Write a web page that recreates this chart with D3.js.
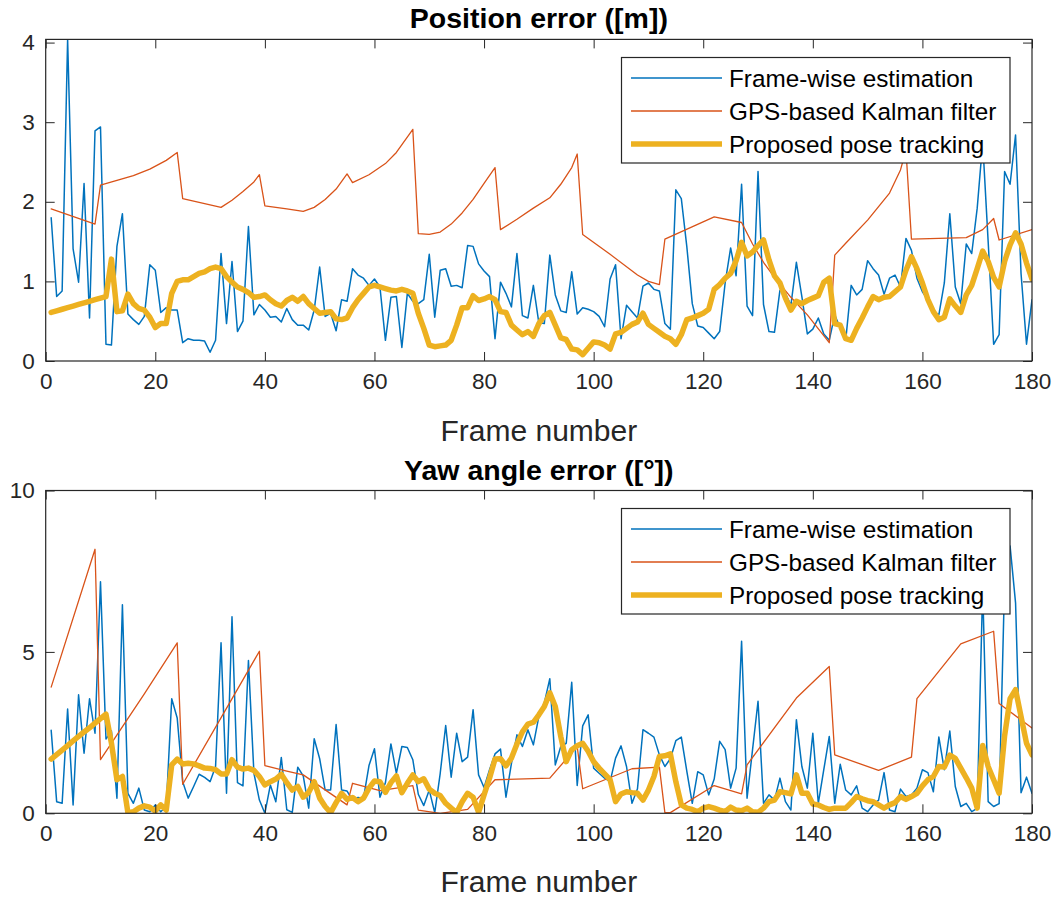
<!DOCTYPE html>
<html>
<head>
<meta charset="utf-8">
<script src="https://cdn.jsdelivr.net/npm/d3@7"></script>
<style>
  html, body { margin: 0; padding: 0; background: #ffffff; }
  svg { display: block; font-family: "Liberation Sans", Arial, Helvetica, sans-serif; }
</style>
</head>
<body>
<svg id="chart" width="1061" height="900"></svg>
<script>
// ---- data ---------------------------------------------------------------
const frameRange = [0, 180];
const xTicks = [0, 20, 40, 60, 80, 100, 120, 140, 160, 180];
const posTicks = [0, 1, 2, 3, 4];
const yawTicks = [0, 5, 10];
const seriesNames = ["Frame-wise estimation", "GPS-based Kalman filter", "Proposed pose tracking"];
const panelTitles = ["Position error ([m])", "Yaw angle error ([\u00B0])"];
const xLabelText = "Frame number";

// position error [m], one value per frame (1..180)
const posFrameWise = [
  1.80,0.81,0.88,4.04,1.41,0.99,2.23,0.54,2.89,2.94,
  0.21,0.20,1.44,1.85,0.59,0.52,0.46,0.56,1.21,1.14,
  0.61,0.67,0.64,0.64,0.23,0.28,0.26,0.26,0.25,0.11,
  0.26,1.35,0.47,1.25,0.37,0.50,1.69,0.58,0.71,0.64,
  0.55,0.56,0.49,0.66,0.52,0.45,0.45,0.39,0.64,1.18,
  0.56,0.60,0.38,0.77,0.75,1.16,1.08,1.04,0.95,1.03,
  0.93,0.26,0.80,0.81,0.17,0.85,0.75,0.72,0.77,1.34,
  0.55,1.14,1.16,0.94,0.95,0.92,1.45,1.44,1.22,1.13,
  1.06,0.28,0.99,0.85,0.68,1.35,0.57,0.54,0.95,0.48,
  0.47,1.33,0.83,0.63,0.61,1.12,0.59,0.67,0.65,0.62,
  0.56,0.43,1.03,1.21,0.28,0.70,0.62,0.54,0.94,0.98,
  0.90,0.88,0.47,0.40,2.15,2.04,1.44,0.72,0.44,0.42,
  0.35,0.28,0.37,0.98,1.42,1.07,2.22,0.69,0.57,2.38,
  0.71,0.37,0.36,0.89,0.85,0.70,1.24,0.81,0.34,0.40,
  0.54,0.34,0.26,0.58,0.41,0.26,0.95,0.83,0.90,1.26,
  1.16,1.08,0.84,1.04,1.08,0.93,1.54,1.39,1.04,0.87,
  0.77,0.62,0.58,0.98,1.85,0.93,0.72,1.47,1.35,1.92,
  2.75,1.50,0.21,0.33,2.38,2.22,2.84,1.10,0.21,0.77
];

// Kalman filter output: frame numbers and values at each segment vertex
const posKalmanFrames = [
  1,9,10,13,16,19,22,24,25,32,34,36,38,39,40,44,47,49,51,53,
  55,56,59,62,64,67,68,70,72,74,76,78,80,82,83,86,89,92,94,96,
  97,98,103,108,110,112,113,122,127,129,131,133,136,139,143,144,146,150,154,156,
  157,158,168,171,173,174,180
];
const posKalman = [
  1.91,1.72,2.21,2.27,2.33,2.41,2.52,2.62,2.04,1.93,2.02,2.13,2.25,2.34,1.95,1.91,1.88,1.93,2.03,2.16,
  2.35,2.24,2.34,2.48,2.62,2.91,1.60,1.59,1.62,1.72,1.86,2.03,2.23,2.43,1.65,1.78,1.92,2.05,2.22,2.43,
  2.60,1.59,1.34,1.08,1.00,0.96,1.53,1.81,1.74,1.47,1.24,1.05,0.80,0.58,0.23,1.33,1.48,1.77,2.11,2.40,
  2.65,1.53,1.55,1.65,1.79,1.52,1.65
];

const posTracking = [
  0.61,0.63,0.65,0.67,0.69,0.71,0.73,0.75,0.77,0.79,
  0.81,1.28,0.62,0.63,0.84,0.72,0.66,0.64,0.55,0.42,
  0.47,0.47,0.85,1.00,1.02,1.02,1.06,1.10,1.12,1.16,
  1.18,1.16,1.06,0.99,0.93,0.90,0.86,0.80,0.81,0.83,
  0.77,0.72,0.69,0.76,0.80,0.75,0.81,0.72,0.66,0.60,
  0.61,0.62,0.53,0.52,0.54,0.67,0.77,0.85,0.93,0.95,
  0.93,0.91,0.89,0.88,0.90,0.88,0.85,0.60,0.41,0.20,
  0.18,0.19,0.20,0.26,0.45,0.67,0.67,0.82,0.76,0.78,
  0.81,0.77,0.62,0.61,0.45,0.39,0.33,0.37,0.31,0.47,
  0.57,0.61,0.45,0.29,0.27,0.15,0.14,0.08,0.16,0.24,
  0.23,0.20,0.15,0.34,0.36,0.41,0.46,0.49,0.60,0.46,
  0.41,0.36,0.31,0.28,0.21,0.33,0.52,0.54,0.57,0.60,
  0.65,0.90,0.96,1.04,1.10,1.26,1.49,1.32,1.37,1.45,
  1.52,1.27,1.07,0.98,0.79,0.64,0.75,0.72,0.76,0.79,
  0.82,0.99,1.04,0.47,0.45,0.28,0.26,0.41,0.54,0.68,
  0.81,0.77,0.80,0.81,0.87,0.93,1.14,1.31,1.16,0.98,
  0.77,0.62,0.52,0.55,0.78,0.69,0.61,0.83,0.95,1.16,
  1.38,1.25,1.05,0.93,1.25,1.46,1.61,1.47,1.23,1.03
];

// yaw angle error [deg], one value per frame (1..180)
const yawFrameWise = [
  2.57,0.36,0.31,3.23,0.26,3.67,1.86,3.55,2.48,7.17,
  2.30,2.55,0.47,6.46,0.62,0.31,0.78,0.10,0.05,0.26,
  0.05,0.21,3.55,2.95,0.98,0.47,0.83,1.21,1.11,0.98,
  1.45,5.28,0.62,6.09,0.95,0.85,4.73,1.24,0.41,0.00,
  0.88,0.36,1.73,0.11,0.03,1.43,1.16,0.16,2.31,1.69,
  0.72,0.72,2.75,0.72,0.69,0.41,0.49,0.47,1.48,2.00,
  0.50,0.95,2.15,1.24,2.07,2.04,1.66,0.59,0.24,0.72,
  0.02,1.24,2.72,1.12,2.48,1.60,1.74,3.21,1.19,0.80,
  1.35,1.84,1.99,0.50,1.55,2.43,2.07,2.59,2.12,3.00,
  3.42,4.17,1.50,2.07,2.17,4.06,0.86,2.71,3.05,1.40,
  1.24,1.09,0.98,1.71,2.09,1.45,0.31,0.76,2.59,2.48,
  2.36,1.81,1.45,1.69,2.25,2.36,1.31,0.31,1.29,1.19,
  0.57,1.06,2.23,1.97,0.78,1.40,5.33,0.47,1.97,3.47,
  0.31,0.57,0.41,1.09,0.36,0.10,2.90,1.45,0.78,2.48,
  0.31,1.35,2.38,0.31,1.52,0.72,0.57,0.85,0.16,0.05,
  0.26,0.41,1.26,0.10,0.05,0.75,0.52,0.57,0.78,1.35,
  1.26,0.67,2.36,1.35,2.55,0.83,0.21,0.31,0.05,0.15,
  7.00,0.36,0.21,0.30,7.20,8.28,6.52,0.64,1.12,0.62
];

const yawKalmanFrames = [
  1,9,10,18,24,25,39,40,44,47,55,56,61,67,68,72,77,82,92,97,
  98,107,112,113,114,122,127,128,137,143,144,152,158,159,167,173,174,180
];
const yawKalman = [
  3.91,8.18,1.66,3.70,5.28,0.90,5.02,1.48,1.31,1.19,0.26,0.93,0.70,0.86,0.10,0.00,0.12,1.04,1.09,2.07,
  0.76,1.38,1.43,0.02,0.02,0.86,0.60,1.50,3.57,4.55,1.81,1.33,1.74,3.55,5.25,5.64,3.40,2.64
];

const yawTracking = [
  1.68,1.82,1.96,2.10,2.24,2.38,2.52,2.65,2.79,2.93,
  3.07,2.17,1.04,1.14,0.02,0.05,0.16,0.23,0.19,0.07,
  0.26,0.10,1.50,1.68,1.53,1.55,1.53,1.47,1.40,1.39,
  1.35,1.22,1.22,1.66,1.43,1.37,1.40,1.33,1.14,0.88,
  0.98,1.06,1.21,0.95,0.72,0.83,0.50,0.65,0.98,0.47,
  0.21,0.02,0.33,0.62,0.43,0.49,0.36,0.47,0.78,1.00,
  0.98,0.65,0.95,1.16,0.64,0.93,1.19,0.98,1.07,0.75,
  0.62,0.55,0.31,0.16,0.02,0.36,0.62,0.50,0.03,0.57,
  1.09,1.68,1.69,1.47,1.71,2.15,2.52,2.76,2.82,3.05,
  3.31,3.73,3.31,2.38,1.60,1.97,2.09,2.17,1.92,1.60,
  1.40,1.22,1.04,0.36,0.60,0.67,0.64,0.62,0.41,0.72,
  1.14,1.76,1.78,1.84,0.98,0.26,0.16,0.12,0.05,0.16,
  0.21,0.16,0.10,0.05,0.19,0.10,0.08,0.16,0.05,0.03,
  0.16,0.36,0.41,0.67,0.64,0.60,1.19,0.62,0.62,0.29,
  0.26,0.18,0.12,0.16,0.16,0.16,0.33,0.52,0.45,0.39,
  0.36,0.26,0.16,0.26,0.33,0.52,0.43,0.52,0.62,0.85,
  1.04,1.14,1.45,1.43,1.80,1.70,1.40,1.10,0.78,0.16,
  2.10,1.45,1.04,0.62,2.40,3.55,3.83,3.00,2.17,1.81
];

// ---- drawing ------------------------------------------------------------
const colors = ["#0072BD", "#D95319", "#EDB120"];
const widths = [1.5, 1.3, 5.5];
const axisColor = "#262626";

const svg = d3.select("#chart");
const left = 45.7, right = 1032;
const x = d3.scaleLinear().domain(frameRange).range([left, right]);
const frames = d3.range(1, 181);

function zipXY(xs, ys) { return xs.map((f, i) => [f, ys[i]]); }

function drawPanel(cfg) {
  const y = d3.scaleLinear().domain(cfg.yDomain).range([cfg.bottom, cfg.top]);
  const g = svg.append("g");
  const clipId = "clip" + cfg.id;
  svg.append("defs").append("clipPath").attr("id", clipId)
    .append("rect").attr("x", left).attr("y", cfg.top)
    .attr("width", right - left).attr("height", cfg.bottom - cfg.top);

  // white plot background
  g.append("rect").attr("x", left).attr("y", cfg.top)
    .attr("width", right - left).attr("height", cfg.bottom - cfg.top)
    .attr("fill", "#ffffff");

  const line = d3.line().x(d => x(d[0])).y(d => y(d[1]));
  const dataG = g.append("g").attr("clip-path", `url(#${clipId})`);
  cfg.series.forEach((s, i) => {
    dataG.append("path").datum(s)
      .attr("d", line)
      .attr("fill", "none")
      .attr("stroke", colors[i])
      .attr("stroke-width", widths[i])
      .attr("stroke-linejoin", "round")
      .attr("stroke-linecap", "round");
  });

  // axes with inward ticks on all four sides
  const tickLen = 9;
  const styleAxis = sel => {
    sel.select(".domain").remove();
    sel.selectAll(".tick line").attr("stroke", axisColor).attr("stroke-width", 1);
    sel.selectAll(".tick text").attr("fill", axisColor)
      .style("font-size", "22.5px").style("font-family", "'Liberation Sans', Arial, sans-serif");
  };
  g.append("g").attr("transform", `translate(0,${cfg.bottom})`)
    .call(d3.axisBottom(x).tickValues(xTicks).tickSize(-tickLen).tickPadding(12).tickFormat(d3.format("d")))
    .call(styleAxis);
  g.append("g").attr("transform", `translate(0,${cfg.top})`)
    .call(d3.axisTop(x).tickValues(xTicks).tickSize(-tickLen).tickFormat(""))
    .call(styleAxis);
  g.append("g").attr("transform", `translate(${left},0)`)
    .call(d3.axisLeft(y).tickValues(cfg.yTicks).tickSize(-tickLen).tickPadding(11).tickFormat(d3.format("d")))
    .call(styleAxis);
  g.append("g").attr("transform", `translate(${right},0)`)
    .call(d3.axisRight(y).tickValues(cfg.yTicks).tickSize(-tickLen).tickFormat(""))
    .call(styleAxis);

  // box
  g.append("rect").attr("x", left).attr("y", cfg.top)
    .attr("width", right - left).attr("height", cfg.bottom - cfg.top)
    .attr("fill", "none").attr("stroke", axisColor).attr("stroke-width", 1.2);

  // title and x label
  g.append("text").attr("x", (left + right) / 2).attr("y", cfg.titleY)
    .attr("text-anchor", "middle").attr("font-weight", "bold")
    .style("font-size", "28.5px").attr("fill", "#000").text(cfg.title);
  g.append("text").attr("x", (left + right) / 2).attr("y", cfg.xLabelY)
    .attr("text-anchor", "middle")
    .style("font-size", "30px").attr("fill", axisColor).text(xLabelText);

  // legend
  const lg = g.append("g");
  const lx = 621.5, lw = 388.5, lh = 105.5, ly = cfg.legendTop;
  lg.append("rect").attr("x", lx).attr("y", ly).attr("width", lw).attr("height", lh)
    .attr("fill", "#ffffff").attr("stroke", axisColor).attr("stroke-width", 1.2);
  seriesNames.forEach((name, i) => {
    const ry = ly + 20.5 + i * 33;
    lg.append("line").attr("x1", 631).attr("x2", 722).attr("y1", ry).attr("y2", ry)
      .attr("stroke", colors[i]).attr("stroke-width", widths[i]);
    lg.append("text").attr("x", 729).attr("y", ry).attr("dy", "0.35em")
      .style("font-size", "24.3px").attr("fill", "#000").text(name);
  });
}

drawPanel({
  id: 1, top: 39.4, bottom: 361, yDomain: [0, 4.04], yTicks: posTicks,
  title: panelTitles[0], titleY: 28, xLabelY: 441, legendTop: 57.5,
  series: [zipXY(frames, posFrameWise), zipXY(posKalmanFrames, posKalman), zipXY(frames, posTracking)]
});
drawPanel({
  id: 2, top: 490.5, bottom: 813.3, yDomain: [0, 10], yTicks: yawTicks,
  title: panelTitles[1], titleY: 480, xLabelY: 892, legendTop: 508.5,
  series: [zipXY(frames, yawFrameWise), zipXY(yawKalmanFrames, yawKalman), zipXY(frames, yawTracking)]
});
</script>
</body>
</html>
